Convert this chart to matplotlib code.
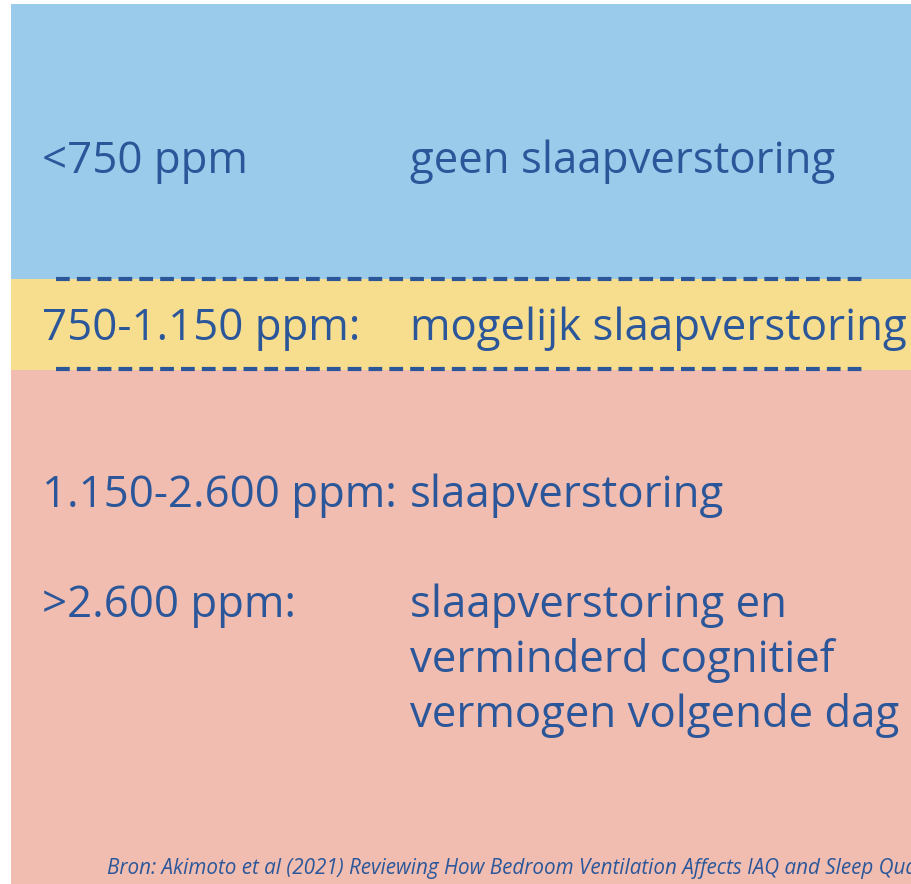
import matplotlib.pyplot as plt

# coloured bands (top, bottom in pixels) and their fills
band_names = ["laag", "twijfel", "hoog"]
band_top = [4, 279, 370]
band_bottom = [279, 370, 884]
band_colors = ["#9ACBEA", "#F7DE8E", "#F1BDB0"]

# dashed separators
sep_y = [279, 369]

# left column (ppm levels) and right column (effects)
levels = ["<750 ppm", "750-1.150 ppm:", "1.150-2.600 ppm:", ">2.600 ppm:"]
level_baseline = [173, 340, 507, 617]

effects = [
    "geen slaapverstoring",
    "mogelijk slaapverstoring",
    "slaapverstoring",
    "slaapverstoring en",
    "verminderd cognitief",
    "vermogen volgende dag",
]
effect_baseline = [173, 340, 507, 617, 672, 727]

source = ("Bron: Akimoto et al (2021) Reviewing How Bedroom Ventilation "
          "Affects IAQ and Sleep Quality")

W, H = 912, 884
txt_col = "#2B579A"
plt.rcParams["font.family"] = ["Open Sans", "DejaVu Sans"]

fig = plt.figure(figsize=(W / 100, H / 100), dpi=100)
ax = fig.add_axes([0, 0, 1, 1])
ax.set_xlim(0, W)
ax.set_ylim(H, 0)
ax.axis("off")

for top, bot, col in zip(band_top, band_bottom, band_colors):
    ax.fill_between([11, W], top, bot, color=col, lw=0)

for y in sep_y:
    ax.plot([56, 866], [y, y], color=txt_col, lw=3.0, dashes=(3.3, 1.7),
            solid_capstyle="butt", dash_capstyle="butt")

fs = 31.5
for lvl, y in zip(levels, level_baseline):
    ax.text(42, y, lvl, fontsize=fs, color=txt_col, va="baseline", ha="left")
for eff, y in zip(effects, effect_baseline):
    ax.text(410, y, eff, fontsize=fs, color=txt_col, va="baseline", ha="left")

ax.text(107, 874, source, fontsize=14.9, color=txt_col, style="italic",
        va="baseline", ha="left", clip_on=True)

fig.savefig("out.png", dpi=100)
